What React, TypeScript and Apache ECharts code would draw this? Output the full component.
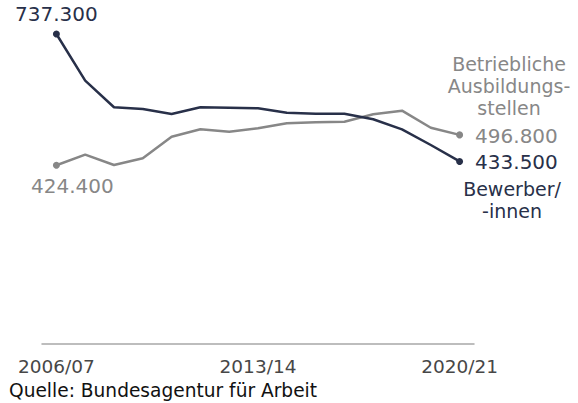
import React, { useEffect, useRef } from "react";
import * as echarts from "echarts";

const categories = [
  "2006/07", "2007/08", "2008/09", "2009/10", "2010/11", "2011/12", "2012/13",
  "2013/14", "2014/15", "2015/16", "2016/17", "2017/18", "2018/19", "2019/20", "2020/21",
];
// values in thousands
const bewerber = [737.3, 626.0, 562.6, 558.5, 546.6, 562.6, 561.6, 560.2, 549.7, 547.3, 547.3, 534.0, 510.1, 472.7, 433.5];
const stellen = [424.4, 449.6, 425.0, 441.0, 492.5, 510.1, 504.4, 512.5, 524.4, 526.8, 528.2, 545.9, 554.5, 513.9, 496.8];
const tickLabels = ["2006/07", "2013/14", "2020/21"];
const nameStellen = "Betriebliche\nAusbildungs-\nstellen";
const nameBewerber = "Bewerber/\n-innen";
const source = "Quelle: Bundesagentur für Arbeit";

const DARK = "#283049";
const GRAY = "#878787";
const FONT = "DejaVu Sans";

const fmt = (v: number) => v.toFixed(3);

export default function App() {
  const ref = useRef<HTMLDivElement>(null);
  useEffect(() => {
    if (!ref.current) return;
    const chart = echarts.init(ref.current, undefined, { renderer: "svg" });
    const last = categories.length - 1;
    const mkData = (arr: number[], firstLabel: any, lastLabel: any) =>
      arr.map((v, i) => {
        if (i === 0) return { value: v, symbolSize: 7, label: firstLabel };
        if (i === last) return { value: v, symbolSize: 7, label: lastLabel };
        return { value: v, symbolSize: 0 };
      });
    chart.setOption({
      animation: false,
      textStyle: { fontFamily: FONT },
      grid: { left: 42, width: 432, top: 7.7, height: 335.6 },
      xAxis: {
        type: "category",
        data: categories,
        boundaryGap: true,
        axisLine: { show: true, lineStyle: { color: "#a8a8a8", width: 1.5 } },
        axisTick: { show: false },
        axisLabel: {
          margin: 14,
          fontSize: 18.5,
          color: "#474747",
          fontFamily: FONT,
          interval: 0,
          formatter: (v: string) => (tickLabels.includes(v) ? v : ""),
        },
        splitLine: { show: false },
      },
      yAxis: {
        type: "value",
        min: 0,
        max: 800,
        show: false,
        splitLine: { show: false },
      },
      series: [
        {
          name: "Betriebliche Ausbildungsstellen",
          type: "line",
          data: mkData(
            stellen,
            { show: true, position: "bottom", distance: 7, offset: [16, 0], color: GRAY, fontSize: 20, fontFamily: FONT, formatter: (p: any) => fmt(p.value) },
            { show: true, position: "right", distance: 12, offset: [0, 1], color: GRAY, fontSize: 20, fontFamily: FONT, formatter: (p: any) => fmt(p.value) }
          ),
          symbol: "circle",
          showAllSymbol: true,
          lineStyle: { color: GRAY, width: 2.5 },
          itemStyle: { color: GRAY },
          z: 2,
        },
        {
          name: "Bewerber/-innen",
          type: "line",
          data: mkData(
            bewerber,
            { show: true, position: "top", distance: 7, color: DARK, fontSize: 20, fontFamily: FONT, formatter: (p: any) => fmt(p.value) },
            { show: true, position: "right", distance: 12, offset: [0, 1], color: DARK, fontSize: 20, fontFamily: FONT, formatter: (p: any) => fmt(p.value) }
          ),
          symbol: "circle",
          showAllSymbol: true,
          lineStyle: { color: DARK, width: 2.5 },
          itemStyle: { color: DARK },
          z: 3,
        },
      ],
      graphic: [
        {
          type: "text",
          x: 509,
          y: 53,
          style: {
            text: nameStellen,
            fill: GRAY,
            fontSize: 19,
            fontFamily: FONT,
            lineHeight: 22,
            align: "center",
            verticalAlign: "top",
          },
        },
        {
          type: "text",
          x: 512,
          y: 177.5,
          style: {
            text: nameBewerber,
            fill: DARK,
            fontSize: 19,
            fontFamily: FONT,
            lineHeight: 22,
            align: "center",
            verticalAlign: "top",
          },
        },
        {
          type: "text",
          x: 9,
          y: 381,
          style: {
            text: source,
            fill: "#111111",
            fontSize: 18.6,
            fontFamily: FONT,
            align: "left",
            verticalAlign: "top",
          },
        },
      ],
    });
    return () => chart.dispose();
  }, []);
  return (
    <div
      ref={ref}
      style={{ position: "absolute", left: 0, top: 0, width: 578, height: 403, background: "#ffffff" }}
    />
  );
}
